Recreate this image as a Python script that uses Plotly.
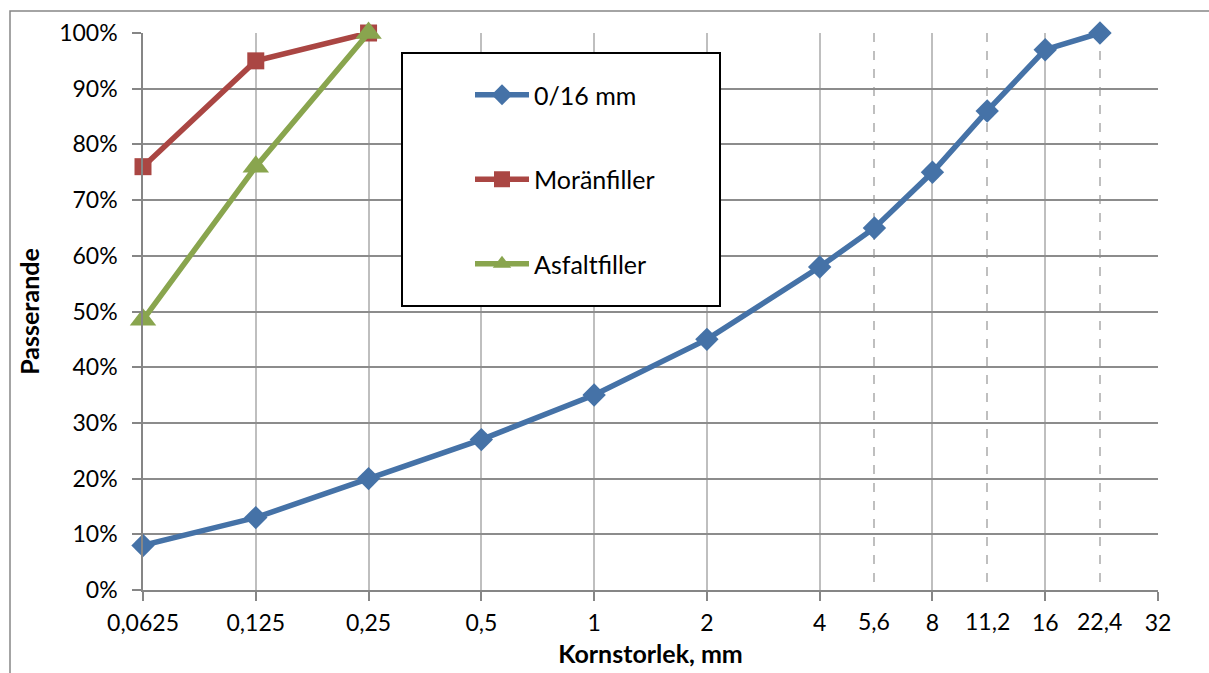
import math
import plotly.graph_objects as go

# ---- data ----
sizes_main = [0.0625, 0.125, 0.25, 0.5, 1, 2, 4, 5.6, 8, 11.2, 16, 22.4]
pass_main = [0.08, 0.13, 0.20, 0.27, 0.35, 0.45, 0.58, 0.65, 0.75, 0.86, 0.97, 1.00]

sizes_filler = [0.0625, 0.125, 0.25]
pass_moran = [0.76, 0.95, 1.00]
pass_asfalt = [0.485, 0.76, 1.00]

major_ticks = [0.0625, 0.125, 0.25, 0.5, 1, 2, 4, 8, 16, 32]
major_labels = ["0,0625", "0,125", "0,25", "0,5", "1", "2", "4", "8", "16", "32"]
extra_ticks = [5.6, 11.2, 22.4]
extra_labels = ["5,6", "11,2", "22,4"]

y_ticks = [0, 0.1, 0.2, 0.3, 0.4, 0.5, 0.6, 0.7, 0.8, 0.9, 1.0]

FONT = "Lato"
FS = 23
BLUE = "#4572A7"
RED = "#AA4643"
GREEN = "#89A54E"

fig = go.Figure()
fig.add_trace(go.Scatter(x=sizes_main, y=pass_main, name="0/16 mm", mode="lines+markers",
                         line=dict(color=BLUE, width=5.5), cliponaxis=False,
                         marker=dict(symbol="diamond", size=18, color=BLUE),
                         legendgroup="a"))
fig.add_trace(go.Scatter(x=sizes_filler, y=pass_moran, name="Moränfiller", mode="lines+markers",
                         line=dict(color=RED, width=5.5), cliponaxis=False,
                         marker=dict(symbol="square", size=17, color=RED),
                         legendgroup="b"))
fig.add_trace(go.Scatter(x=sizes_filler, y=pass_asfalt, name="Asfaltfiller", mode="lines+markers",
                         line=dict(color=GREEN, width=5.5), cliponaxis=False,
                         marker=dict(symbol="triangle-up", size=23, color=GREEN),
                         legendgroup="c"))

for xv, lab in zip(extra_ticks, extra_labels):
    fig.add_annotation(x=math.log10(xv), y=0, xref="x", yref="paper", text=lab,
                       showarrow=False, yanchor="top", yshift=-15,
                       font=dict(family=FONT, size=FS, color="#000"))

# outer chart border
fig.add_shape(type="rect", xref="paper", yref="paper",
              x0=(10 - 143) / 1015, x1=(1220 - 143) / 1015,
              y0=-(100 / 557), y1=1 + 22 / 557,
              line=dict(color="#868686", width=1.5), fillcolor="rgba(0,0,0,0)", layer="below")
# legend box
fig.add_shape(type="rect", xref="paper", yref="paper",
              x0=(402 - 143) / 1015, x1=(720 - 143) / 1015,
              y0=(590 - 306) / 557, y1=(590 - 53) / 557,
              line=dict(color="#000", width=2), fillcolor="white", layer="above")

fig.update_layout(
    width=1209, height=673,
    margin=dict(l=143, r=51, t=33, b=83, autoexpand=False),
    paper_bgcolor="white", plot_bgcolor="white",
    font=dict(family=FONT, size=FS, color="#000"),
    showlegend=True,
    legend=dict(x=(470 - 143) / 1015, y=(590 - 72) / 557, xanchor="left", yanchor="top",
                bgcolor="rgba(0,0,0,0)", borderwidth=0, tracegroupgap=49,
                itemwidth=54, font=dict(family=FONT, size=25, color="#000")),
    xaxis=dict(type="log", range=[math.log10(0.0625), math.log10(32)], automargin=False,
               tickmode="array", tickvals=major_ticks, ticktext=major_labels,
               ticks="outside", ticklen=9, tickcolor="#868686", tickwidth=1.5,
               ticklabelstandoff=3,
               showgrid=True, gridcolor="#BFBFBF", gridwidth=1.5,
               showline=True, linecolor="#868686", linewidth=1.5,
               zeroline=False,
               minor=dict(tickmode="array", tickvals=extra_ticks, ticks="", showgrid=True,
                          gridcolor="#BFBFBF", gridwidth=2, griddash="dash"),
               title=dict(text="<b>Kornstorlek, mm</b>", font=dict(family=FONT, size=25), standoff=10),
               tickfont=dict(family=FONT, size=FS)),
    yaxis=dict(range=[0, 1], automargin=False, tickmode="array", tickvals=y_ticks, tickformat=".0%",
               ticks="outside", ticklen=9, tickcolor="#868686", tickwidth=1.5,
               ticklabelstandoff=10,
               showgrid=True, gridcolor="#8C8C8C", gridwidth=1.5,
               showline=True, linecolor="#868686", linewidth=1.5,
               zeroline=False,
               title=dict(text="<b>Passerande</b>", font=dict(family=FONT, size=25), standoff=12),
               tickfont=dict(family=FONT, size=FS)),
)

fig.write_html("out.html")
